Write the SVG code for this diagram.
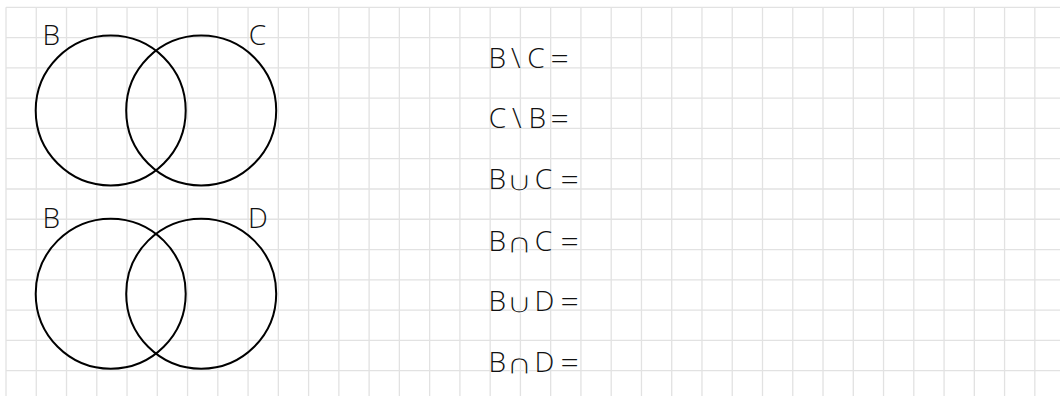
<svg xmlns="http://www.w3.org/2000/svg" width="1060" height="396" viewBox="0 0 1060 396">
<style>
.grid{fill:none;stroke:#e2e2e2;stroke-width:1.3}
.set{fill:none;stroke:#000;stroke-width:2}
.t{font-family:"Open Sans","Liberation Sans",sans-serif;font-weight:300;font-size:28px;fill:#111}
.op{font-family:"DejaVu Sans",sans-serif;font-weight:400;font-size:28px;fill:#111;stroke:#fff;stroke-width:1.1px;paint-order:normal}
.eq{font-size:32px}
</style>
<rect width="1060" height="396" fill="#fff"/>
<g id="grid" class="grid">
<path d="M6,7.3V396M36.26,7.3V396M66.52,7.3V396M96.78,7.3V396M127.04,7.3V396M157.3,7.3V396M187.56,7.3V396M217.82,7.3V396M248.08,7.3V396M278.34,7.3V396M308.6,7.3V396M338.86,7.3V396M369.12,7.3V396M399.38,7.3V396M429.64,7.3V396M459.9,7.3V396M490.16,7.3V396M520.42,7.3V396M550.68,7.3V396M580.94,7.3V396M611.2,7.3V396M641.46,7.3V396M671.72,7.3V396M701.98,7.3V396M732.24,7.3V396M762.5,7.3V396M792.76,7.3V396M823.02,7.3V396M853.28,7.3V396M883.54,7.3V396M913.8,7.3V396M944.06,7.3V396M974.32,7.3V396M1004.58,7.3V396M1034.84,7.3V396"/>
<path d="M6,7.3H1060M6,37.58H1060M6,67.86H1060M6,98.14H1060M6,128.42H1060M6,158.7H1060M6,188.98H1060M6,219.26H1060M6,249.54H1060M6,279.82H1060M6,310.1H1060M6,340.38H1060M6,370.66H1060"/>
</g>
<g id="venn-BC">
<circle class="set" cx="110.7" cy="110.5" r="75"/>
<circle class="set" cx="201.2" cy="110.5" r="75"/>
<text class="t" x="42.5" y="45">B</text>
<text class="t" x="248.7" y="45">C</text>
</g>
<g id="venn-BD">
<circle class="set" cx="110.7" cy="293.7" r="75"/>
<circle class="set" cx="201.2" cy="293.7" r="75"/>
<text class="t" x="42.5" y="228">B</text>
<text class="t" x="248" y="228">D</text>
</g>
<g id="exercises">
<g id="row1"><text class="t" y="67.5"><tspan x="488.5">B</tspan> <tspan x="511">\</tspan> <tspan x="527.3">C</tspan> <tspan class="eq" x="550.5" dy="1">=</tspan></text></g>
<g id="row2"><text class="t" y="128.3"><tspan x="488.7">C</tspan> <tspan x="512">\</tspan> <tspan x="528.5">B</tspan> <tspan class="eq" x="550.5" dy="1">=</tspan></text></g>
<g id="row3"><text class="t" x="488.5" y="189">B</text><text class="op" transform="translate(506,191) scale(1.3,1)">∪</text><text class="t" y="189"><tspan x="534.7">C</tspan> <tspan class="eq" x="560.5" dy="1">=</tspan></text></g>
<g id="row4"><text class="t" x="488.5" y="250.5">B</text><text class="op" transform="translate(506,252.5) scale(1.3,1)">∩</text><text class="t" y="250.5"><tspan x="534.7">C</tspan> <tspan class="eq" x="560.5" dy="1">=</tspan></text></g>
<g id="row5"><text class="t" x="488.5" y="311">B</text><text class="op" transform="translate(506,313) scale(1.3,1)">∪</text><text class="t" y="311"><tspan x="534.5">D</tspan> <tspan class="eq" x="560.5" dy="1">=</tspan></text></g>
<g id="row6"><text class="t" x="488.5" y="371.5">B</text><text class="op" transform="translate(506,373.5) scale(1.3,1)">∩</text><text class="t" y="371.5"><tspan x="534.5">D</tspan> <tspan class="eq" x="560.5" dy="1">=</tspan></text></g>
</g>
</svg>
